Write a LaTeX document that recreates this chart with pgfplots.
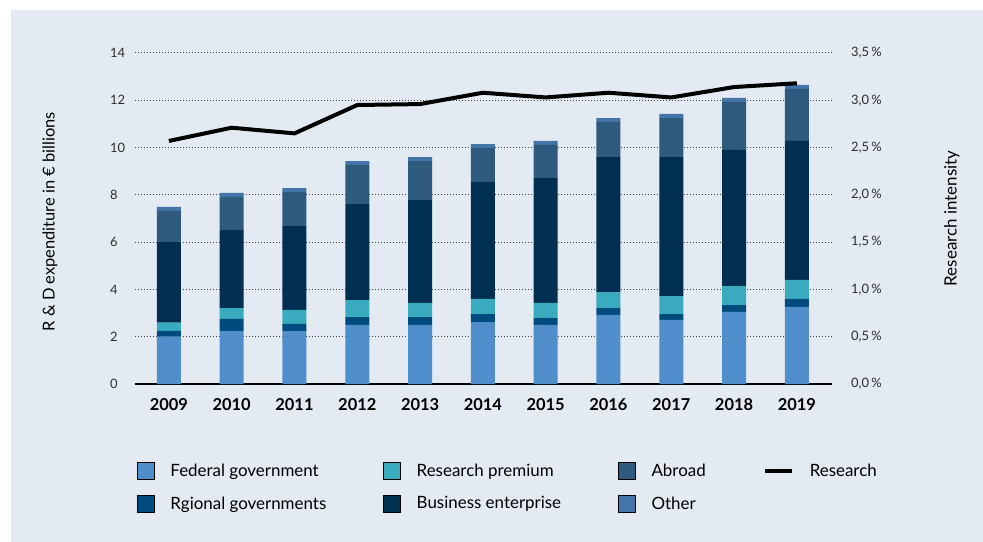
\documentclass[border=0pt]{standalone}
\usepackage{fontspec}
\setmainfont{Lato}
\usepackage{pgfplots}
\usepackage{pgfplotstable}
\pgfplotsset{compat=1.18}

\definecolor{bgc}{RGB}{227,234,241}
\definecolor{fedc}{RGB}{79,142,203}
\definecolor{regc}{RGB}{0,75,125}
\definecolor{rpc}{RGB}{58,171,190}
\definecolor{busc}{RGB}{0,47,81}
\definecolor{abrc}{RGB}{46,90,126}
\definecolor{othc}{RGB}{67,117,168}
\definecolor{tickc}{RGB}{45,45,45}

% contributions in EUR billions
\pgfplotstableread{
idx year fed  reg  rp   bus  abr  oth
0   2009 2.00 0.25 0.35 3.40 1.32 0.17
1   2010 2.24 0.51 0.46 3.30 1.40 0.17
2   2011 2.24 0.30 0.59 3.55 1.44 0.17
3   2012 2.50 0.33 0.72 4.06 1.65 0.17
4   2013 2.50 0.33 0.60 4.35 1.65 0.17
5   2014 2.62 0.34 0.64 4.94 1.44 0.17
6   2015 2.50 0.29 0.64 5.28 1.40 0.17
7   2016 2.92 0.29 0.68 5.71 1.48 0.17
8   2017 2.71 0.25 0.76 5.88 1.65 0.17
9   2018 3.05 0.29 0.80 5.76 2.03 0.17
10  2019 3.26 0.34 0.80 5.88 2.20 0.17
}\rdtable

% research intensity in percent
\pgfplotstableread{
idx ri
0   2.57
1   2.71
2   2.65
3   2.95
4   2.96
5   3.08
6   3.03
7   3.08
8   3.03
9   3.14
10  3.18
}\ritable

\pgfplotsset{
  sqlegend/.style={legend image code/.code={\fill[##1] (0bp,-8.5bp) rectangle (17bp,8.5bp);}},
  lnlegend/.style={legend image code/.code={\draw[##1] (0bp,0bp) -- (27bp,0bp);}},
}

\begin{document}
\begin{tikzpicture}
\useasboundingbox (-135bp,-158bp) rectangle (848bp,384bp);
\fill[white] (-135bp,-158bp) rectangle (848bp,384bp);
\fill[bgc] (-124bp,-158bp) rectangle (848bp,374bp);

\begin{axis}[
  scale only axis,
  width=697bp, height=331bp,
  xmin=-0.54, xmax=10.56,
  ymin=0, ymax=14,
  ybar stacked, bar width=24bp,
  axis line style={draw=none},
  major tick length=0pt,
  xtick={0,...,10},
  xticklabels={2009,2010,2011,2012,2013,2014,2015,2016,2017,2018,2019},
  xticklabel style={font=\fontsize{16.5}{19}\selectfont\bfseries, anchor=north, inner sep=0pt, yshift=-14bp},
  ytick={0,2,...,14},
  yticklabels={0,2,4,6,8,10,12,14},
  yticklabel style={font=\fontsize{13}{15}\selectfont, text=tickc, anchor=west, inner sep=0pt, xshift=-25bp},
  ymajorgrids,
  major grid style={draw=black!75, line width=1bp, dash pattern=on 1bp off 2bp},
  ylabel={R \& D expenditure in € billions},
  ylabel style={font=\fontsize{16.5}{19}\selectfont, at={(axis description cs:-0.122,0.49)}, anchor=center},
  legend columns=4,
  legend cell align=left,
  legend style={
    at={(axis description cs:0.00287,-0.237)}, anchor=north west,
    draw=none, fill=none, inner sep=0pt, outer sep=0pt,
    font=\fontsize{17}{20}\selectfont,
    row sep=15bp,
    nodes={inner sep=0pt},
    /tikz/every odd column/.append style={column sep=16bp},
    /tikz/every even column/.append style={column sep=57bp},
  },
]
\addlegendimage{sqlegend, fill=fedc}
\addlegendimage{sqlegend, fill=rpc}
\addlegendimage{sqlegend, fill=abrc}
\addlegendimage{lnlegend, draw=black, line width=4bp}
\addlegendimage{sqlegend, fill=regc}
\addlegendimage{sqlegend, fill=busc}
\addlegendimage{sqlegend, fill=othc}
\legend{Federal government, Research premium, Abroad, Research, Rgional governments, Business enterprise, Other}

\addplot[fill=fedc, draw=none] table[x=idx, y=fed] {\rdtable};
\addplot[fill=regc, draw=none] table[x=idx, y=reg] {\rdtable};
\addplot[fill=rpc, draw=none] table[x=idx, y=rp] {\rdtable};
\addplot[fill=busc, draw=none] table[x=idx, y=bus] {\rdtable};
\addplot[fill=abrc, draw=none] table[x=idx, y=abr] {\rdtable};
\addplot[fill=othc, draw=none] table[x=idx, y=oth] {\rdtable};
\draw[black, line width=1.3bp] (rel axis cs:0,0) -- (rel axis cs:1,0);
\end{axis}

\begin{axis}[
  scale only axis,
  width=697bp, height=331bp,
  xmin=-0.54, xmax=10.56,
  ymin=0, ymax=3.5,
  axis x line=none,
  axis y line*=right,
  y axis line style={draw=none},
  major tick length=0pt,
  ytick={0,0.5,...,3.5},
  yticklabels={{0,0\,\%},{0,5\,\%},{1,0\,\%},{1,5\,\%},{2,0\,\%},{2,5\,\%},{3,0\,\%},{3,5\,\%}},
  yticklabel style={font=\fontsize{13}{15}\selectfont, text=tickc, anchor=west, inner sep=0pt, xshift=19bp},
  ylabel={Research intensity},
  ylabel style={font=\fontsize{17}{20}\selectfont, at={(axis description cs:1.172,0.5)}, anchor=center},
]
\addplot[black, line width=4bp, line join=round, no markers] table[x=idx, y=ri] {\ritable};
\end{axis}
\end{tikzpicture}
\end{document}
